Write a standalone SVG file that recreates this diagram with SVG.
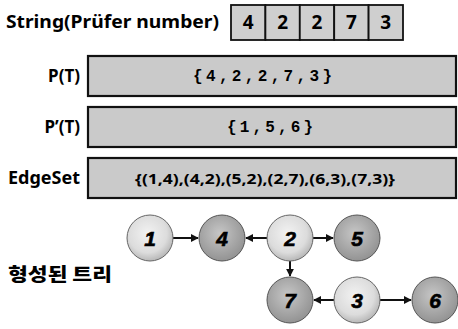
<svg xmlns="http://www.w3.org/2000/svg" width="458" height="329" viewBox="0 0 458 329">
<defs>
<style>
.lbl{font-family:"Noto Sans","Open Sans","Liberation Sans",sans-serif;font-weight:bold;fill:#000}
.kr{font-family:"Noto Sans CJK KR",sans-serif;font-weight:900;fill:#000}
.box{fill:#cacaca;stroke:#111;stroke-width:2.2}
.cell{fill:#cfcfcf;stroke:#111;stroke-width:1.8}
.mono{font-family:"Liberation Mono","DejaVu Sans Mono",monospace;font-weight:bold;font-size:16px;fill:#000}
.num{font-family:"Liberation Sans","Noto Sans",sans-serif;font-weight:bold;font-style:italic;font-size:21px;fill:#000;stroke:#000;stroke-width:0.6}
.light{fill:url(#gl);stroke:#666;stroke-width:1}
.dark{fill:url(#gd);stroke:#555;stroke-width:1}
.edge{stroke:#111;stroke-width:2;fill:none;marker-end:url(#ah)}
</style>
<radialGradient id="gl" cx="45%" cy="40%" r="60%">
<stop offset="0" stop-color="#f2f2f2"/><stop offset="0.7" stop-color="#dcdcdc"/><stop offset="1" stop-color="#b8b8b8"/>
</radialGradient>
<radialGradient id="gd" cx="45%" cy="40%" r="60%">
<stop offset="0" stop-color="#c6c6c6"/><stop offset="1" stop-color="#939393"/>
</radialGradient>
<marker id="ah" viewBox="0 0 10 10" refX="9" refY="5" markerWidth="4" markerHeight="4" orient="auto">
<path d="M0,0 L10,5 L0,10 z" fill="#111"/>
</marker>
</defs>
<rect width="458" height="329" fill="#fff"/>

<g id="header">
<text class="lbl" x="6" y="28" font-size="18" textLength="213" lengthAdjust="spacingAndGlyphs">String(Prüfer number)</text>
<rect class="cell" x="231" y="5" width="34.4" height="35"/>
<rect class="cell" x="265.4" y="5" width="34.4" height="35"/>
<rect class="cell" x="299.8" y="5" width="34.4" height="35"/>
<rect class="cell" x="334.2" y="5" width="34.4" height="35"/>
<rect class="cell" x="368.6" y="5" width="34.4" height="35"/>
<g class="lbl" font-size="19" text-anchor="middle">
<text x="248.2" y="29">4</text>
<text x="282.6" y="29">2</text>
<text x="317" y="29">2</text>
<text x="351.4" y="29">7</text>
<text x="385.8" y="29">3</text>
</g>
</g>

<g id="pt">
<text class="lbl" x="80" y="82" font-size="17" text-anchor="end">P(T)</text>
<rect class="box" x="88" y="56" width="368" height="40"/>
<text class="mono" x="193" y="81" textLength="139" lengthAdjust="spacing">{4,2,2,7,3}</text>
</g>

<g id="ppt">
<text class="lbl" x="80" y="133" font-size="17" text-anchor="end">P’(T)</text>
<rect class="box" x="88" y="107" width="368" height="40"/>
<text class="mono" x="227" y="132" textLength="86" lengthAdjust="spacing">{1,5,6}</text>
</g>

<g id="edgeset">
<text class="lbl" x="80" y="184" font-size="18" text-anchor="end">EdgeSet</text>
<rect class="box" x="88" y="158" width="368" height="40"/>
<text class="lbl" x="135" y="184" font-size="15" textLength="260" lengthAdjust="spacingAndGlyphs">{(1,4),(4,2),(5,2),(2,7),(6,3),(7,3)}</text>
</g>

<text class="kr" x="8" y="281" font-size="18" textLength="104" lengthAdjust="spacingAndGlyphs">형성된 트리</text>

<g id="edges">
<line class="edge" x1="173" y1="238" x2="198" y2="238"/>
<line class="edge" x1="267" y1="238" x2="246" y2="238"/>
<line class="edge" x1="313" y1="238" x2="333" y2="238"/>
<line class="edge" x1="290" y1="261" x2="290" y2="276"/>
<line class="edge" x1="334" y1="300" x2="314" y2="300"/>
<line class="edge" x1="380" y1="300" x2="411" y2="300"/>
</g>

<g id="n1"><circle class="light" cx="150" cy="238" r="23"/><text class="num" x="150" y="246" text-anchor="middle">1</text></g>
<g id="n4"><circle class="dark" cx="222" cy="238" r="23"/><text class="num" x="222" y="246" text-anchor="middle">4</text></g>
<g id="n2"><circle class="light" cx="290" cy="238" r="23"/><text class="num" x="290" y="246" text-anchor="middle">2</text></g>
<g id="n5"><circle class="dark" cx="357" cy="238" r="23"/><text class="num" x="357" y="246" text-anchor="middle">5</text></g>
<g id="n7"><circle class="dark" cx="290" cy="300" r="23"/><text class="num" x="290" y="308" text-anchor="middle">7</text></g>
<g id="n3"><circle class="light" cx="357" cy="300" r="23"/><text class="num" x="357" y="308" text-anchor="middle">3</text></g>
<g id="n6"><circle class="dark" cx="435" cy="300" r="23"/><text class="num" x="435" y="308" text-anchor="middle">6</text></g>
</svg>
